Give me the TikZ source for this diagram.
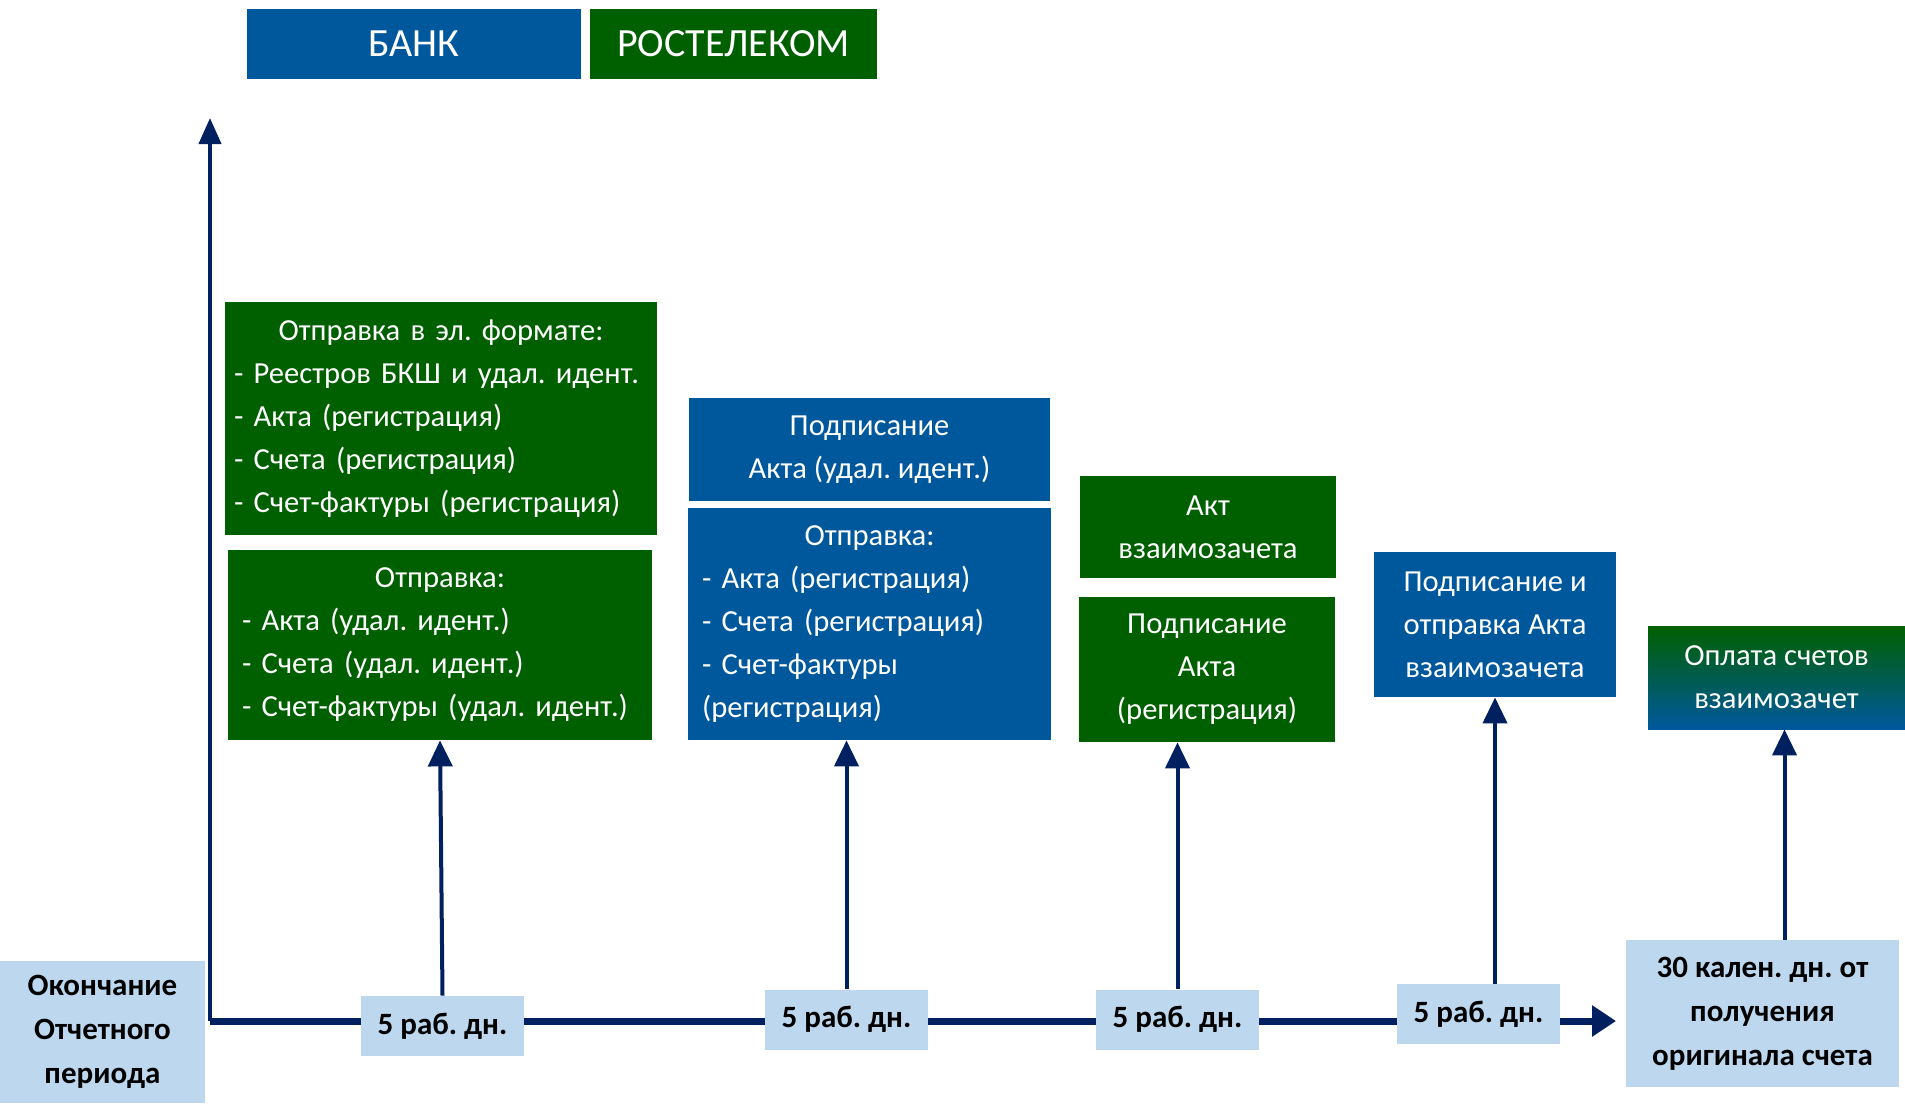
\documentclass[tikz,border=0pt]{standalone}
\usepackage{fontspec}
\setmainfont{Carlito}
\usetikzlibrary{positioning,arrows.meta}

\definecolor{bankblue}{RGB}{0,88,156}
\definecolor{rtkgreen}{RGB}{0,96,0}
\definecolor{axisnavy}{RGB}{0,32,96}
\definecolor{daysblue}{RGB}{189,215,238}

\newcommand\headline[1]{\hbox to\hsize{\hfil#1\hfil}\\}

\begin{document}
\frenchspacing
\begin{tikzpicture}[x=0.5pt,y=-0.5pt,
   boxtext/.style={text=white,inner sep=0pt,font=\fontsize{15.3}{21.5}\selectfont},
   bankbox/.style={boxtext,fill=bankblue,align=center},
   rtkbox/.style={boxtext,fill=rtkgreen,align=center},
   daysbox/.style={fill=daysblue,inner sep=0pt,align=center,font=\fontsize{15.5}{22}\selectfont\bfseries},
   uparrow/.style={axisnavy,line width=2pt,-{Triangle[length=13pt,width=12pt]}}]
\useasboundingbox (0,0) rectangle (1905,1103);
\coordinate (origin) at (210,1021);
\coordinate (ytop) at (210,118);
\coordinate (xtip) at (1616,1021);
\draw[axisnavy,line width=2pt,-{Triangle[length=13pt,width=11pt]}] (origin) -- (ytop);
\draw[axisnavy,line width=3.5pt,-{Triangle[length=12pt,width=15pt]}] (origin) -- (xtip);

% legend
\node (bank) [bankbox,minimum width=167pt,minimum height=35pt,font=\fontsize{20}{24}\selectfont] at (414,44) {БАНК};
\node (rtk) [rtkbox,minimum width=143.5pt,minimum height=35pt,font=\fontsize{20}{24}\selectfont] at (733.5,44) {РОСТЕЛЕКОМ};

% steps
\node (send-el) [rtkbox,minimum width=216pt,minimum height=116.5pt,text width=207pt,align=left] at (441,418.5)
 {\headline{Отправка в эл. формате:}- Реестров БКШ и удал. идент.\\- Акта (регистрация)\\- Счета (регистрация)\\- Счет-фактуры (регистрация)};
\node (send-rtk) [rtkbox,minimum width=212pt,minimum height=95pt,text width=198pt,align=left] at (440,645)
 {\headline{Отправка:}- Акта (удал. идент.)\\- Счета (удал. идент.)\\- Счет-фактуры (удал. идент.)};
\node (sign-bank) [bankbox,minimum width=180.5pt,minimum height=51.5pt] at (869.5,449.5)
 {Подписание\\Акта (удал. идент.)};
\node (send-bank) [bankbox,minimum width=181.5pt,minimum height=116pt,text width=167.5pt,align=left] at (869.5,624)
 {\headline{Отправка:}- Акта (регистрация)\\- Счета (регистрация)\\- Счет-фактуры\\(регистрация)};
\node (offset-act) [rtkbox,minimum width=128pt,minimum height=51pt] at (1208,527)
 {Акт\\взаимозачета};
\node (sign-rtk) [rtkbox,minimum width=128pt,minimum height=72.5pt] at (1207,669.5)
 {Подписание\\Акта\\(регистрация)};
\node (sign-offset) [bankbox,minimum width=121pt,minimum height=72.5pt] at (1495,624.5)
 {Подписание и\\отправка Акта\\взаимозачета};
\node (pay) [boxtext,align=center,top color=rtkgreen,bottom color=bankblue,minimum width=128.5pt,minimum height=51.5pt] at (1776.5,677.5)
 {Оплата счетов\\взаимозачет};

% time line
\node (start) [daysbox,minimum width=102.5pt,minimum height=71pt] at (102.5,1032) {Окончание\\Отчетного\\периода};
\node (days1) [daysbox,minimum width=81.5pt,minimum height=30pt] at (442.5,1026) {5 раб. дн.};
\node (days2) [daysbox,minimum width=81.5pt,minimum height=30pt] at (846.5,1019.5) {5 раб. дн.};
\node (days3) [daysbox,minimum width=81.5pt,minimum height=30pt] at (1177.5,1019.5) {5 раб. дн.};
\node (days4) [daysbox,minimum width=81.5pt,minimum height=30pt] at (1478.5,1014) {5 раб. дн.};
\node (days30) [daysbox,minimum width=136.5pt,minimum height=73.5pt] at (1762.5,1013.5) {30 кален. дн. от\\получения\\оригинала счета};

\coordinate (paytip) at ([xshift=4pt]pay.south);
\draw[uparrow] (days1.north) -- (send-rtk.south);
\draw[uparrow] (days2.north) -- (days2.north |- send-bank.south);
\draw[uparrow] (days3.north) -- (days3.north |- sign-rtk.south);
\draw[uparrow] (sign-offset.south |- days4.north) -- (sign-offset.south);
\draw[uparrow] (paytip |- days30.north) -- (paytip);
\end{tikzpicture}
\end{document}
